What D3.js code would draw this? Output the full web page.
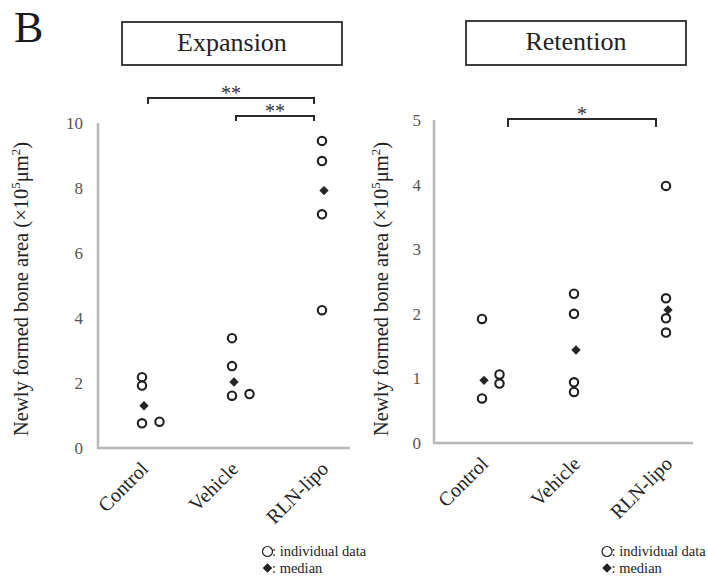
<!DOCTYPE html>
<html lang="en">
<head>
    <meta charset="UTF-8">
    <title>Newly formed bone area</title>
    <script src="https://d3js.org/d3.v7.min.js"></script>
    <style>
        * { margin: 0; padding: 0; box-sizing: border-box; }
        body { background: #fff; font-family: "Liberation Serif", "Times New Roman", serif; }
        svg text { font-family: "Liberation Serif", "Times New Roman", serif; }
    </style>
</head>
<body>
    <div id="chart"></div>
    <script>
        // data
        const categories = ["Control", "Vehicle", "RLN-lipo"];

        const expansionValues  = [[2.18, 1.92, 0.76, 0.81], [3.38, 2.52, 1.61, 1.66], [9.45, 8.83, 7.19, 4.24]];
        const expansionColumn  = [[0, 0, 0, 1], [0, 0, 0, 1], [0, 0, 0, 0]];
        const expansionMedians = [1.30, 2.03, 7.92];
        const expansionTicks   = [0, 2, 4, 6, 8, 10];
        const expansionSig     = [["Control", "RLN-lipo", "**"], ["Vehicle", "RLN-lipo", "**"]];

        const retentionValues  = [[1.92, 0.69, 1.06, 0.92], [2.31, 2.00, 0.94, 0.79], [3.98, 2.24, 1.93, 1.71]];
        const retentionColumn  = [[0, 0, 1, 1], [0, 0, 0, 0], [0, 0, 0, 0]];
        const retentionMedians = [0.97, 1.44, 2.06];
        const retentionTicks   = [0, 1, 2, 3, 4, 5];
        const retentionSig     = [["Control", "RLN-lipo", "*"]];

        const yTitle = "Newly formed bone area";
        const serif = "Liberation Serif, Times New Roman, serif";

        const svg = d3.select("#chart")
            .append("svg")
            .attr("width", 708)
            .attr("height", 577)
            .attr("font-family", serif);

        svg.append("text")
            .attr("x", 14)
            .attr("y", 42)
            .style("font-size", "44px")
            .attr("fill", "#1a1a1a")
            .text("B");

        function drawPanel(p) {
            const g = svg.append("g");

            const x = d3.scalePoint().domain(categories).range(p.xRange);
            const y = d3.scaleLinear().domain([0, d3.max(p.ticks)]).range([p.bottom, p.top]);

            // title box
            g.append("rect")
                .attr("x", p.box[0]).attr("y", p.box[1])
                .attr("width", p.box[2]).attr("height", p.box[3])
                .attr("fill", "none")
                .attr("stroke", "#2a2a2a")
                .attr("stroke-width", 1.8);
            g.append("text")
                .attr("x", p.box[0] + p.box[2] / 2)
                .attr("y", p.box[1] + 29)
                .attr("text-anchor", "middle")
                .style("font-size", "26px")
                .attr("fill", "#222")
                .text(p.title);

            // axes
            g.append("path")
                .attr("d", `M${p.axisX},${y(d3.max(p.ticks))}V${p.bottom}H${p.axisEnd}`)
                .attr("fill", "none")
                .attr("stroke", "#b8b8b8")
                .attr("stroke-width", 2.5);

            const yAxis = g.append("g")
                .attr("transform", `translate(${p.axisX},0)`)
                .call(d3.axisLeft(y).tickValues(p.ticks).tickFormat(d3.format("d")).tickSize(0).tickPadding(p.tickPad))
                .attr("font-family", serif)
                .attr("font-size", 17);
            yAxis.select(".domain").remove();
            yAxis.selectAll("text")
                .style("font-family", serif)
                .attr("fill", "#555");

            const xAxis = g.append("g")
                .attr("transform", `translate(0,${p.bottom})`)
                .call(d3.axisBottom(x).tickSize(0).tickPadding(0))
                .attr("font-family", serif)
                .attr("font-size", 20);
            xAxis.select(".domain").remove();
            xAxis.selectAll("text")
                .style("font-family", serif)
                .attr("fill", "#222")
                .attr("text-anchor", "end")
                .attr("dy", 0)
                .attr("transform", "translate(7,22) rotate(-45)");

            // y title
            const t = g.append("text")
                .attr("transform", `translate(${p.titleX},289) rotate(-90)`)
                .attr("text-anchor", "middle")
                .style("font-size", "20.5px")
                .attr("fill", "#222");
            t.append("tspan").text(yTitle + " (×10");
            t.append("tspan").attr("dy", -8).style("font-size", "13px").text("5");
            t.append("tspan").attr("dy", 8).text("μm");
            t.append("tspan").attr("dy", -8).style("font-size", "13px").text("2");
            t.append("tspan").attr("dy", 8).text(")");

            // individual points
            const pts = [];
            p.values.forEach((vals, i) => vals.forEach((v, j) => {
                pts.push({ cat: categories[i], value: v, col: p.column[i][j] });
            }));
            g.selectAll(".pt")
                .data(pts)
                .join("circle")
                .attr("class", "pt")
                .attr("cx", d => x(d.cat) + d.col * 17.5)
                .attr("cy", d => y(d.value))
                .attr("r", 4.2)
                .attr("fill", "#fff")
                .attr("stroke", "#1e1e1e")
                .attr("stroke-width", 2.1);

            // medians
            g.selectAll(".med")
                .data(p.medians)
                .join("path")
                .attr("class", "med")
                .attr("d", d3.symbol(d3.symbolSquare, 44)())
                .attr("transform", (d, i) => `translate(${x(categories[i]) + 2},${y(d)}) rotate(45)`)
                .attr("fill", "#262626");

            // significance brackets
            p.sig.forEach((s, i) => {
                const b = p.brackets[i];
                const x1 = x(s[0]) + b[0], x2 = x(s[1]) + b[1];
                g.append("path")
                    .attr("d", `M${x1},${b[2] + b[3]}V${b[2]}H${x2}V${b[2] + b[3]}`)
                    .attr("fill", "none")
                    .attr("stroke", "#2a2a2a")
                    .attr("stroke-width", 2);
                g.append("text")
                    .attr("x", (x1 + x2) / 2)
                    .attr("y", b[2] + 2)
                    .attr("text-anchor", "middle")
                    .style("font-size", "20px")
                    .attr("fill", "#333")
                    .text(s[2]);
            });

            // legend
            const lg = g.append("g").attr("transform", `translate(${p.legendX},0)`);
            lg.append("circle")
                .attr("cx", 0).attr("cy", 551.5).attr("r", 5)
                .attr("fill", "#fff").attr("stroke", "#222").attr("stroke-width", 1.2);
            lg.append("path")
                .attr("d", d3.symbol(d3.symbolSquare, 46)())
                .attr("transform", "translate(0,568) rotate(45)")
                .attr("fill", "#222");
            lg.append("text").attr("x", 4.5).attr("y", 556)
                .style("font-family", serif)
                .style("font-size", "14.5px").attr("fill", "#222").text(": individual data");
            lg.append("text").attr("x", 4.5).attr("y", 572.5)
                .style("font-family", serif)
                .style("font-size", "14.5px").attr("fill", "#222").text(": median");
        }

        drawPanel({
            title: "Expansion",
            values: expansionValues, column: expansionColumn, medians: expansionMedians,
            ticks: expansionTicks, sig: expansionSig,
            xRange: [142, 322], top: 123, bottom: 448, axisX: 98, axisEnd: 350, tickPad: 15,
            box: [122, 22, 220, 43], titleX: 28, legendX: 267.5,
            brackets: [[6, -8, 98, 6], [4, -8, 116, 5]]
        });

        drawPanel({
            title: "Retention",
            values: retentionValues, column: retentionColumn, medians: retentionMedians,
            ticks: retentionTicks, sig: retentionSig,
            xRange: [482, 666], top: 120, bottom: 443, axisX: 434, axisEnd: 693, tickPad: 13,
            box: [466, 21, 220, 44], titleX: 388, legendX: 607,
            brackets: [[26, -10, 119, 8]]
        });
    </script>
</body>
</html>
